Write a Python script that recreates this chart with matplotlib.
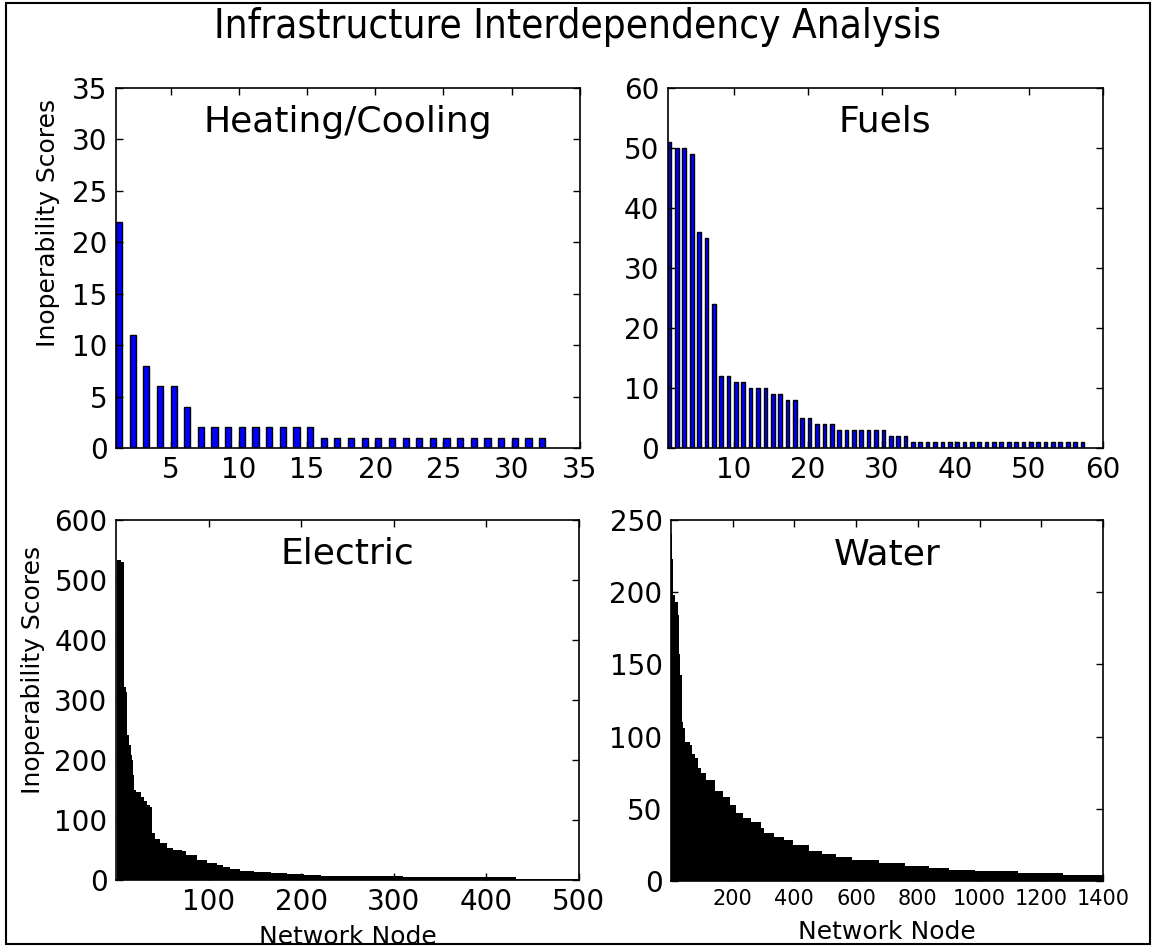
"""Infrastructure interdependency figure: inoperability scores per network node."""

import matplotlib

matplotlib.use("Agg")
matplotlib.rcParams["font.family"] = "DejaVu Sans"

import matplotlib.pyplot as plt  # noqa: E402
from matplotlib.patches import Rectangle  # noqa: E402

# Heating/Cooling and Fuels: one bar per node (node index starts at 1).
heating_scores = [22, 11, 8, 6, 6, 4] + [2] * 9 + [1] * 17
fuels_scores = (
    [51, 50, 50, 49, 36, 35, 24]
    + [12, 12, 11, 11, 10, 10, 10, 9, 9, 8, 8]
    + [5, 5, 4, 4, 4]
    + [3] * 7
    + [2] * 3
    + [1] * 24
)

# Electric and Water: too many nodes to list, read as runs (first node of run, score).
electric_start = [1, 5, 9, 11, 12, 14, 16, 17, 18, 20, 22, 27, 30, 33, 37, 39, 42, 48,
                  55, 62, 71, 76, 87, 98, 109, 116, 123, 134, 149, 167, 185, 203, 221,
                  239, 271, 310, 364, 432]
electric_score = [533, 530, 322, 314, 242, 225, 208, 200, 175, 150, 147, 139, 131, 125,
                  122, 78, 69, 61, 53, 50, 48, 42, 33, 28, 25, 21, 19, 15.5, 13, 11, 9.4,
                  8.3, 7.2, 6.7, 6, 5, 4.4, 1.5]
electric_end = 500

water_start = [1, 4, 6, 8, 13, 22, 26, 29, 35, 37, 40, 45, 61, 67, 77, 88, 99, 115, 142,
               169, 190, 212, 233, 260, 292, 303, 335, 368, 394, 448, 491, 534, 588, 674,
               760, 835, 900, 986, 1126, 1271]
water_score = [240, 223, 207, 198, 193, 184, 157, 143, 143, 110, 106, 96.5, 94, 88, 85,
               78, 74.6, 70, 62, 58.4, 52.7, 47, 43.4, 41, 36.5, 33, 30.7, 28.4, 25, 20.8,
               18.5, 16.4, 14.5, 12.2, 10.4, 8.8, 7.6, 6.7, 5.8, 4.4]
water_end = 1400

TITLE = "Infrastructure Interdependency Analysis"
YLABEL = "Inoperability Scores"
XLABEL = "Network Node"
TICK_SIZE = 20
LABEL_SIZE = 18


def style_axes(ax, title):
    ax.tick_params(direction="in", top=True, right=True, length=5, width=1,
                   labelsize=TICK_SIZE, pad=6)
    for spine in ax.spines.values():
        spine.set_linewidth(1.2)
    ax.text(0.5, 0.878, title, transform=ax.transAxes, ha="center",
            va="baseline", fontsize=26)


def run_widths(starts, end):
    return [b - a for a, b in zip(starts, starts[1:] + [end])]


fig = plt.figure(figsize=(11.56, 9.47), dpi=100)
fig.patches.append(Rectangle((0.005, 0.003), 0.99, 0.994, transform=fig.transFigure,
                             fill=False, edgecolor="black", linewidth=1.5))
fig.text(0.5, 1 - 38 / 947, TITLE, ha="center", va="baseline", fontsize=29,
         fontstretch="condensed")

ax1 = fig.add_axes([0.1003, 0.5269, 0.4014, 0.3801])
ax1.bar(range(1, len(heating_scores) + 1), heating_scores, width=0.45, align="edge",
        color="blue", edgecolor="black", linewidth=1)
ax1.set_xlim(1, 35)
ax1.set_ylim(0, 35)
ax1.set_xticks(range(5, 36, 5))
ax1.set_yticks(range(0, 36, 5))
ax1.set_ylabel(YLABEL, fontsize=LABEL_SIZE)
ax1.yaxis.set_label_coords(-0.12, 0.625)
style_axes(ax1, "Heating/Cooling")

ax2 = fig.add_axes([0.5776, 0.5269, 0.3763, 0.3801])
ax2.bar(range(1, len(fuels_scores) + 1), fuels_scores, width=0.5, align="edge",
        color="blue", edgecolor="black", linewidth=1)
ax2.set_xlim(1, 60)
ax2.set_ylim(0, 60)
ax2.set_xticks(range(10, 61, 10))
ax2.set_yticks(range(0, 61, 10))
style_axes(ax2, "Fuels")

ax3 = fig.add_axes([0.1003, 0.0708, 0.4005, 0.3801])
ax3.bar(electric_start, electric_score, width=run_widths(electric_start, electric_end),
        align="edge", color="black", linewidth=0)
ax3.set_xlim(0, 500)
ax3.set_ylim(0, 600)
ax3.set_xticks(range(100, 501, 100))
ax3.set_yticks(range(0, 601, 100))
ax3.set_ylabel(YLABEL, fontsize=LABEL_SIZE)
ax3.yaxis.set_label_coords(-0.153, 0.583)
ax3.set_xlabel(XLABEL, fontsize=LABEL_SIZE, labelpad=6)
style_axes(ax3, "Electric")

ax4 = fig.add_axes([0.5804, 0.0697, 0.3737, 0.3812])
ax4.bar(water_start, water_score, width=run_widths(water_start, water_end),
        align="edge", color="black", linewidth=0)
ax4.set_xlim(0, 1400)
ax4.set_ylim(0, 250)
ax4.set_xticks(range(200, 1401, 200))
ax4.set_yticks(range(0, 251, 50))
ax4.set_xlabel(XLABEL, fontsize=LABEL_SIZE, labelpad=8)
style_axes(ax4, "Water")
ax4.tick_params(axis="x", labelsize=15)

fig.savefig("out.png", dpi=100)
